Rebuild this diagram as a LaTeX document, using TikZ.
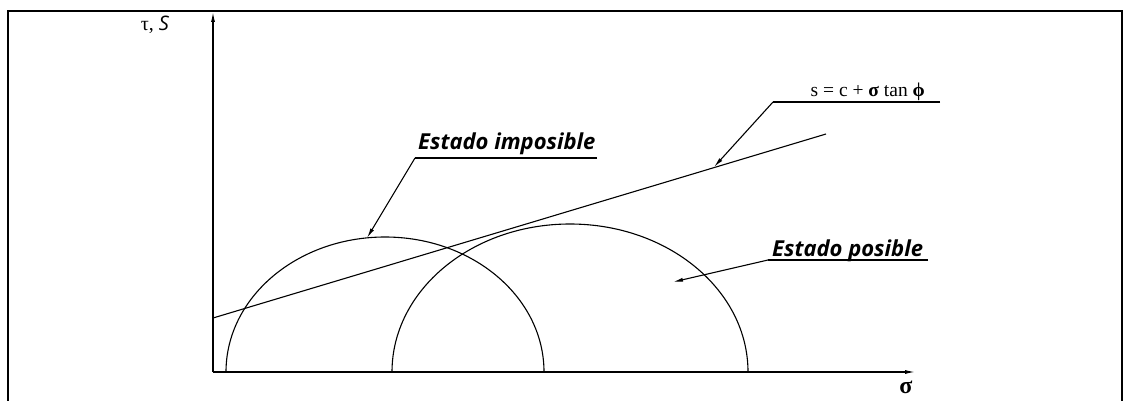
\documentclass[tikz,border=0pt]{standalone}
\usepackage{fontspec}
\setmainfont{Liberation Serif}
\newfontfamily\lblfont{Open Sans}
\usetikzlibrary{arrows.meta}
\tikzset{
  thinline/.style={line width=1.1pt},
  tip/.style={-{Latex[length=10pt,width=4pt]}},
  lbl/.style={inner sep=0pt, anchor=base west, font=\lblfont\bfseries\itshape\fontsize{22}{24}\selectfont},
}
\begin{document}
\begin{tikzpicture}[x=1pt,y=1pt]
\useasboundingbox (0,0) rectangle (1126,400);
% frame
\draw[thinline] (8,-2) -- (8,389) -- (1122,389) -- (1122,-2);
% axes
\coordinate (O) at (213,28);
\coordinate (ytop) at (213,388);
\coordinate (xend) at (915,28);
\draw[thinline,tip] (O) -- (ytop);
\draw[thinline,tip] (O) -- (xend);
\node[inner sep=0pt, anchor=base] (tlab) at (155,370) {\fontsize{20}{22}\selectfont τ, {\lblfont\itshape S}};
\node[inner sep=0pt, anchor=base] (slab) at (906,7) {\fontsize{24}{26}\selectfont\bfseries σ};
% Mohr circles
\draw[thinline] (226,28) arc[start angle=180, end angle=0, x radius=159, y radius=135];
\draw[thinline] (392,28) arc[start angle=180, end angle=0, x radius=178, y radius=148];
% failure envelope
\coordinate (f0) at (213,82);
\coordinate (f1) at (826,266);
\draw[thinline] (f0) -- (f1);
% equation label
\node[inner sep=0pt, anchor=base east] (eq) at (925,304) {\fontsize{19.5}{22}\selectfont s = c + {\bfseries σ} tan {\bfseries ϕ}};
\coordinate (equl) at (773,298);
\coordinate (eqtip) at (714,233);
\draw[thinline] (940,298) -- (equl);
\draw[thinline,tip] (equl) -- (eqtip);
% Estado imposible
\node[lbl] (imp) at (418,251) {Estado imposible};
\coordinate (impul) at (415,242);
\coordinate (imptip) at (367,162);
\draw[thinline] (597,242) -- (impul);
\draw[thinline,tip] (impul) -- (imptip);
% Estado posible
\node[lbl] (pos) at (772,144) {Estado posible};
\coordinate (posul) at (768,140);
\coordinate (postip) at (673,118);
\draw[thinline] (928,140) -- (posul);
\draw[thinline,tip] (posul) -- (postip);
\end{tikzpicture}
\end{document}
